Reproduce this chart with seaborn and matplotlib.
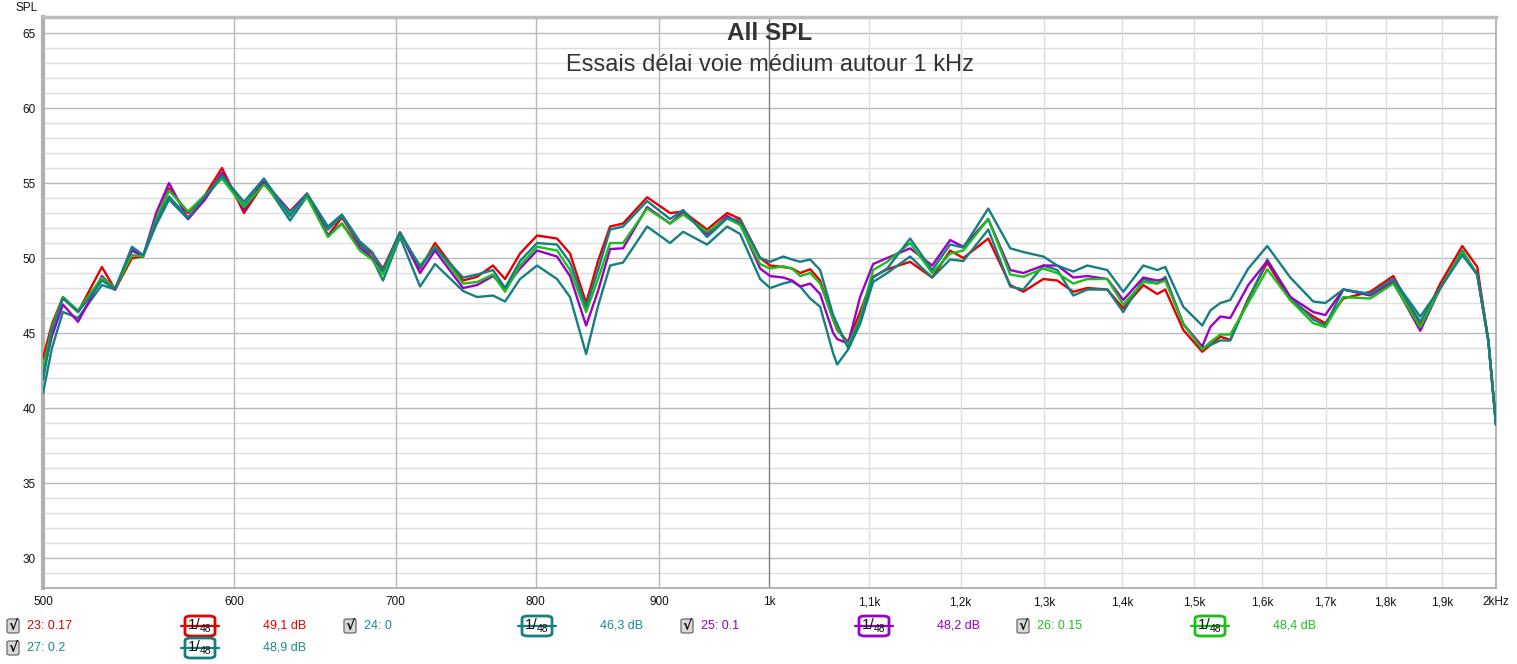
import numpy as np
import pandas as pd
import matplotlib
matplotlib.use("Agg")
import matplotlib.pyplot as plt
from matplotlib.patches import FancyBboxPatch
from matplotlib.lines import Line2D
import seaborn as sns

# ---------------- data ----------------
freq = [500, 504.3, 509.6, 517.0, 522.9, 528.9, 535.6, 544.3, 550.1, 557.0,
        563.9, 574.2, 583.6, 593.1, 605.7, 617.3, 632.9, 643.2, 656.2, 665.0,
        676.5, 684.4, 691.6, 702.9, 716.5, 726.8, 746.5, 756.5, 768.1, 777.0,
        788.2, 801.1, 816.5, 826.7, 839.5, 849.1, 858.9, 869.6, 889.8, 909.5,
        920.9, 942.2, 960.4, 972.4, 991.1, 1000.6, 1013.1, 1021.9, 1029.7, 1039.6,
        1049.5, 1062.6, 1066.7, 1077.9, 1090.3, 1103.9, 1118.8, 1143.6, 1167.9, 1188.1,
        1203.1, 1232.1, 1258.2, 1274.0, 1298.5, 1316.0, 1336.2, 1354.2, 1380.3, 1401.5,
        1428.5, 1447.7, 1458.8, 1484.1, 1511.2, 1522.8, 1537.4, 1552.1, 1579.0, 1607.9,
        1643.6, 1680.0, 1699.4, 1728.8, 1773.9, 1813.3, 1860.6, 1896.5, 1936.7, 1964.6,
        1985.4, 2000]

spl_23 = [43.3, 45.6, 47.4, 46.4, 47.9, 49.4, 47.9, 50.0, 50.1, 52.5,
          54.65, 53.0, 54.2, 56.0, 53.0, 55.0, 53.1, 54.2, 51.5, 52.7,
          50.9, 50.3, 49.3, 51.7, 49.3, 51.0, 48.5, 48.75, 49.5, 48.6,
          50.3, 51.5, 51.3, 50.3, 47.0, 49.8, 52.1, 52.3, 54.05, 53.0,
          53.1, 51.9, 53.0, 52.6, 50.0, 49.5, 49.4, 49.3, 49.0, 49.25,
          48.5, 45.9, 45.2, 44.4, 46.4, 48.75, 49.25, 49.75, 48.7, 50.5,
          50.0, 51.3, 48.2, 47.75, 48.6, 48.5, 47.75, 48.0, 47.9, 46.65,
          48.2, 47.6, 47.9, 45.2, 43.75, 44.2, 44.75, 44.55, 47.3, 49.7,
          47.2, 46.1, 45.65, 47.3, 47.75, 48.8, 45.5, 48.3, 50.8, 49.4,
          44.5, 38.9]

spl_24 = [41.0, 44.0, 46.4, 46.0, 47.1, 48.2, 47.9, 50.6, 50.1, 52.2,
          53.9, 52.6, 54.0, 55.4, 53.5, 55.1, 52.5, 54.1, 51.9, 52.8,
          51.0, 50.0, 48.5, 51.4, 48.1, 49.6, 47.8, 47.4, 47.5, 47.1,
          48.6, 49.5, 48.6, 47.4, 43.6, 46.8, 49.5, 49.7, 52.1, 51.0,
          51.75, 50.9, 52.1, 51.6, 48.6, 48.0, 48.3, 48.45, 48.1, 47.3,
          46.75, 43.65, 42.9, 43.9, 45.6, 48.4, 49.0, 50.1, 48.7, 49.9,
          49.8, 51.9, 48.1, 47.9, 49.5, 49.2, 47.5, 47.9, 47.9, 46.4,
          48.6, 48.3, 48.75, 45.6, 44.0, 44.2, 44.5, 44.5, 47.2, 49.9,
          47.4, 45.9, 45.5, 47.9, 47.6, 48.6, 45.75, 48.0, 50.5, 48.9,
          44.5, 38.9]

spl_25 = [42.3, 44.8, 46.9, 45.75, 47.2, 48.8, 47.9, 50.5, 50.1, 53.0,
          55.0, 52.6, 53.9, 55.7, 53.2, 55.1, 53.1, 54.3, 51.5, 52.3,
          50.7, 50.0, 49.1, 51.7, 49.0, 50.5, 48.0, 48.2, 48.8, 48.0,
          49.3, 50.5, 50.1, 48.8, 45.5, 47.8, 50.6, 50.65, 53.4, 52.3,
          53.1, 51.6, 52.8, 52.3, 49.3, 48.8, 48.7, 48.5, 48.1, 48.3,
          47.6, 45.0, 44.6, 44.3, 47.4, 49.6, 50.0, 50.65, 49.5, 51.2,
          50.75, 52.6, 49.2, 49.0, 49.5, 49.5, 48.7, 48.8, 48.6, 47.2,
          48.7, 48.5, 48.6, 45.6, 44.1, 45.4, 46.1, 46.0, 48.2, 49.8,
          47.4, 46.4, 46.2, 47.9, 47.5, 48.4, 45.15, 48.0, 50.3, 48.9,
          44.5, 38.9]

spl_26 = [42.6, 45.4, 47.4, 46.5, 47.6, 48.7, 48.0, 50.2, 50.1, 52.6,
          54.5, 53.1, 54.2, 55.3, 53.4, 54.9, 53.0, 54.1, 51.4, 52.3,
          50.5, 49.9, 48.9, 51.6, 49.5, 50.75, 48.3, 48.4, 48.9, 47.75,
          49.5, 50.75, 50.5, 49.2, 46.4, 48.6, 51.0, 51.0, 53.3, 52.3,
          52.9, 51.75, 52.65, 52.2, 49.6, 49.3, 49.45, 49.3, 48.8, 49.0,
          48.3, 45.9, 45.3, 44.2, 46.0, 49.2, 49.75, 51.0, 49.0, 50.3,
          50.5, 52.6, 48.9, 48.75, 49.3, 49.0, 48.3, 48.6, 48.6, 46.9,
          48.4, 48.3, 48.5, 45.6, 43.9, 44.4, 44.9, 44.9, 47.0, 49.25,
          47.2, 45.65, 45.4, 47.4, 47.3, 48.3, 45.4, 48.0, 50.4, 48.9,
          44.5, 38.9]

spl_27 = [41.9, 45.2, 47.3, 46.4, 47.4, 48.5, 47.95, 50.75, 50.2, 52.4,
          54.1, 52.7, 54.1, 55.5, 53.75, 55.3, 52.8, 54.3, 52.1, 52.9,
          51.1, 50.4, 49.2, 51.7, 49.4, 50.7, 48.7, 48.9, 49.2, 48.0,
          49.8, 51.0, 50.9, 49.7, 46.75, 49.2, 51.9, 52.1, 53.8, 52.6,
          53.2, 51.4, 52.65, 52.5, 50.0, 49.75, 50.1, 49.9, 49.75, 49.9,
          49.2, 46.2, 45.6, 44.0, 45.8, 48.7, 49.3, 51.3, 49.2, 50.9,
          50.7, 53.3, 50.65, 50.4, 50.1, 49.5, 49.1, 49.5, 49.2, 47.75,
          49.5, 49.2, 49.4, 46.75, 45.5, 46.5, 47.0, 47.2, 49.3, 50.8,
          48.7, 47.1, 47.0, 47.9, 47.6, 48.6, 46.1, 48.0, 50.2, 48.9,
          44.5, 38.9]

series_names = ["23: 0.17", "24: 0", "25: 0.1", "26: 0.15", "27: 0.2"]
series_values = [spl_23, spl_24, spl_25, spl_26, spl_27]
series_avg = ["49,1 dB", "46,3 dB", "48,2 dB", "48,4 dB", "48,9 dB"]
series_colors = ["#e60000", "#167f80", "#9b00c4", "#18c018", "#147f82"]
label_colors = ["#e00000", "#1c8a8a", "#9400c8", "#22bb22", "#1c8a8a"]

xticks = [500, 600, 700, 800, 900, 1000, 1100, 1200, 1300, 1400, 1500,
          1600, 1700, 1800, 1900, 2000]
xticklabels = ["500", "600", "700", "800", "900", "1k", "1,1k", "1,2k", "1,3k",
               "1,4k", "1,5k", "1,6k", "1,7k", "1,8k", "1,9k", "2kHz"]
yticks = [30, 35, 40, 45, 50, 55, 60, 65]

# ---------------- figure ----------------
W, H = 1517, 664
sns.set_style("white")
plt.rcParams["font.family"] = ["Liberation Sans", "DejaVu Sans"]

fig = plt.figure(figsize=(W / 100, H / 100), dpi=100)
fig.patch.set_facecolor("white")
ax = fig.add_axes([43 / W, 1 - 588 / H, (1496 - 43) / W, (588 - 17) / H])

df = pd.DataFrame({
    "freq": np.tile(freq, len(series_names)),
    "spl": np.concatenate(series_values),
    "series": np.repeat(series_names, len(freq)),
})

ax.set_xscale("log")
sns.lineplot(data=df, x="freq", y="spl", hue="series", hue_order=series_names,
             palette=dict(zip(series_names, series_colors)), linewidth=1.7,
             legend=False, ax=ax, sort=False, estimator=None, zorder=3,
             solid_joinstyle="round", solid_capstyle="round")

ax.set_xlim(500, 2000)
ax.set_ylim(28, 66.07)

# grids
for yv in range(28, 67):
    if yv % 5 == 0:
        ax.axhline(yv, color="#b9b9b9", lw=1.0, zorder=1)
    else:
        ax.axhline(yv, color="#dedede", lw=1.0, zorder=1)
for xv in xticks[1:-1]:
    if xv < 1000:
        ax.axvline(xv, color="#b9b9b9", lw=1.0, zorder=1)
    elif xv == 1000:
        ax.axvline(xv, color="#808080", lw=1.0, zorder=1)
    else:
        ax.axvline(xv, color="#dedede", lw=1.0, zorder=1)

ax.set_xticks(xticks)
ax.set_xticklabels(xticklabels)
ax.xaxis.set_minor_locator(matplotlib.ticker.NullLocator())
ax.set_yticks(yticks)
ax.set_yticklabels([str(v) for v in yticks])
ax.tick_params(axis="both", length=0, labelsize=8.5, colors="#111111")
ax.tick_params(axis="x", pad=6)
ax.tick_params(axis="y", pad=5)
ax.set_xlabel("")
ax.set_ylabel("")
for side, sp in ax.spines.items():
    sp.set_visible(True)
    sp.set_color("#a8a8a8")
    sp.set_linewidth(1.2)
ax.spines["left"].set_linewidth(3)
ax.spines["top"].set_linewidth(2.5)
ax.spines["left"].set_color("#b0b0b0")
ax.spines["top"].set_color("#bdbdbd")

# titles and axis label
fig.text(769.5 / W, 1 - 34 / H, "All SPL", ha="center", va="center",
         fontsize=17.5, fontweight="bold", color="#333333")
fig.text(769.5 / W, 1 - 65 / H, "Essais délai voie médium autour 1 kHz",
         ha="center", va="center", fontsize=17, color="#333333")
fig.text(15 / W, 1 - 8 / H, "SPL", ha="left", va="center", fontsize=8.5,
         color="#111111")


# ---------------- legend strip ----------------
def fx(px):
    return px / W


def fy(py):
    return 1 - py / H


def checkbox(px, py):
    box = FancyBboxPatch((fx(px - 6), fy(py + 7)), 12 / W, 14 / H,
                         boxstyle="round,pad=0,rounding_size=0.002",
                         transform=fig.transFigure, facecolor="#d8d8d8",
                         edgecolor="#6a6a6a", linewidth=0.9)
    fig.patches.append(box)
    fig.text(fx(px), fy(py), "\u221a", ha="center", va="center", fontsize=10,
             color="#111111", fontweight="bold", family=["DejaVu Sans"])


def smoothing_box(px, py, color):
    fig.lines.append(Line2D([fx(px - 19), fx(px + 19)], [fy(py), fy(py)],
                            transform=fig.transFigure, color=color, lw=1.6))
    box = FancyBboxPatch((fx(px - 15), fy(py + 10)), 30 / W, 20 / H,
                         boxstyle="round,pad=0,rounding_size=0.004",
                         transform=fig.transFigure, facecolor="white",
                         edgecolor=color, linewidth=2)
    fig.patches.append(box)
    fig.text(fx(px - 6), fy(py - 1), "1/", ha="center", va="center",
             fontsize=11, color="#111111")
    fig.text(fx(px + 6), fy(py + 3), "48", ha="center", va="center",
             fontsize=7.5, color="#111111")


rows = [(626, [(0, 13), (1, 350), (2, 687), (3, 1023)]), (648, [(4, 13)])]
for py, items in rows:
    for idx, px in items:
        checkbox(px, py)
        fig.text(fx(px + 14), fy(py), series_names[idx], ha="left", va="center",
                 fontsize=9, color=label_colors[idx])
        smoothing_box(px + 187, py, series_colors[idx])
        fig.text(fx(px + 250), fy(py), series_avg[idx], ha="left", va="center",
                 fontsize=9, color=label_colors[idx])

fig.savefig("out.png", dpi=100, facecolor="white")
